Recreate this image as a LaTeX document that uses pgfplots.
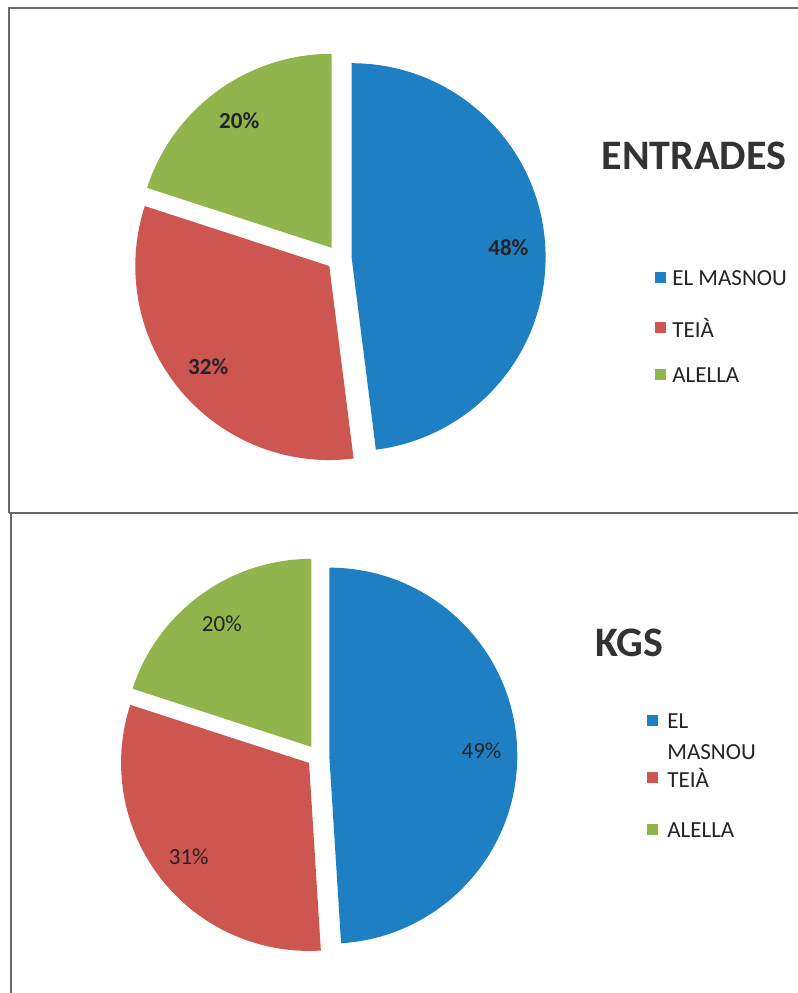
\documentclass[border=0pt]{standalone}
\usepackage{pgfplots}
\pgfplotsset{compat=1.18}
\usepackage{pgfplotstable}
\usepackage{fontspec}
\setmainfont{Carlito}

\definecolor{masnou}{RGB}{30,128,194}
\definecolor{teia}{RGB}{205,86,80}
\definecolor{alella}{RGB}{146,180,76}
\definecolor{txt}{RGB}{35,35,40}
\definecolor{frame}{RGB}{105,105,105}

% percentages
\pgfplotstableread[col sep=comma]{
name,value,color
EL MASNOU,48,masnou
TEIÀ,32,teia
ALELLA,20,alella
}\entrades
\pgfplotstableread[col sep=comma]{
name,value,color
EL MASNOU,49,masnou
TEIÀ,31,teia
ALELLA,20,alella
}\kgs

\tikzset{
  lbltop/.style={font=\fontsize{11.5}{13}\selectfont\bfseries, text=txt, inner sep=0pt},
  lblbot/.style={font=\fontsize{11.5}{13}\selectfont, text=txt, inner sep=0pt},
  ttl/.style={font=\fontsize{21}{25}\selectfont\bfseries, text=black!80, inner sep=0pt},
  leg/.style={font=\fontsize{11.5}{13}\selectfont, text=txt, inner sep=0pt, anchor=west},
  sq/.style={minimum size=5.5pt, inner sep=0pt},
}

% #1 table, #2 cx, #3 cy, #4 radius, #5 explode, #6 label style (units: px)
\newcommand\pie[6]{%
  \pgfplotstablegetrowsof{#1}\pgfmathtruncatemacro\nrows{\pgfplotsretval-1}%
  \def\piecum{0}%
  \pgfplotsforeachungrouped \i in {0,...,\nrows}{%
    \pgfplotstablegetelem{\i}{value}\of{#1}\let\v\pgfplotsretval
    \pgfplotstablegetelem{\i}{color}\of{#1}\let\c\pgfplotsretval
    \pgfmathsetmacro\ta{90-3.6*\piecum}%
    \pgfmathsetmacro\tb{90-3.6*(\piecum+\v)}%
    \pgfmathsetmacro\tm{(\ta+\tb)/2}%
    \pgfmathsetmacro\ax{#2+#5*cos(\tm)}%
    \pgfmathsetmacro\ay{#3+#5*sin(\tm)}%
    \pgfmathsetmacro\sx{\ax+#4*cos(\ta)}%
    \pgfmathsetmacro\sy{\ay+#4*sin(\ta)}%
    \pgfmathsetmacro\lx{\ax+0.81*#4*cos(\tm)}%
    \pgfmathsetmacro\ly{\ay+0.81*#4*sin(\tm)}%
    \pgfmathsetmacro\rr{0.5*#4}%
    \edef\cmd{\noexpand\fill[\c] (axis cs:\ax,\ay) -- (axis cs:\sx,\sy)
        arc[start angle=\ta, end angle=\tb, radius=\rr pt] -- cycle;
      \noexpand\node[#6] at (axis cs:\lx,\ly) {\v\noexpand\%};}%
    \cmd
    \pgfmathsetmacro\piecum{\piecum+\v}%
  }%
}

\begin{document}
\begin{tikzpicture}
\useasboundingbox (0,0) rectangle (399pt,496.5pt);
\begin{axis}[
  at={(0pt,0pt)}, anchor=origin,
  scale only axis, width=399pt, height=496.5pt,
  xmin=0, xmax=798, ymin=0, ymax=993,
  enlargelimits=false, hide axis, clip=false,
]
  % panel frames
  \draw[frame, line width=1pt] (axis cs:9,480) -- (axis cs:9,985) -- (axis cs:798,985);
  \draw[frame, line width=1pt] (axis cs:9,480) -- (axis cs:798,480);
  \draw[frame, line width=1pt] (axis cs:11,0) -- (axis cs:11,480);

  % ENTRADES
  \pie{\entrades}{339}{735}{194}{12.6}{lbltop}
  \node[ttl] at (axis cs:694,837) {ENTRADES};
  \node[sq, fill=masnou] at (axis cs:660.5,715) {};
  \node[leg] at (axis cs:672,715) {EL MASNOU};
  \node[sq, fill=teia] at (axis cs:660.5,665) {};
  \node[leg] at (axis cs:672,665) {TEIÀ};
  \node[sq, fill=alella] at (axis cs:660.5,618) {};
  \node[leg] at (axis cs:672,618) {ALELLA};

  % KGS
  \pie{\kgs}{318}{237}{188}{11.3}{lblbot}
  \node[ttl] at (axis cs:629,350) {KGS};
  \node[sq, fill=masnou] at (axis cs:652,272) {};
  \node[leg] at (axis cs:667,272) {EL};
  \node[leg] at (axis cs:667,241) {MASNOU};
  \node[sq, fill=teia] at (axis cs:652,215) {};
  \node[leg] at (axis cs:667,215) {TEIÀ};
  \node[sq, fill=alella] at (axis cs:652,163) {};
  \node[leg] at (axis cs:667,163) {ALELLA};
\end{axis}
\end{tikzpicture}
\end{document}
